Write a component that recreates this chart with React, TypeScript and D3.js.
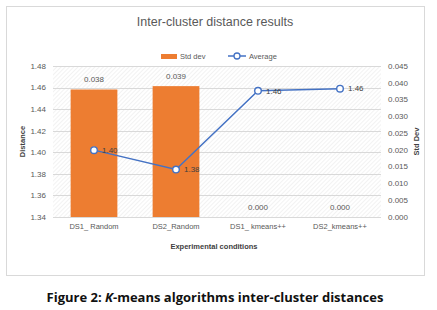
import React from "react";
import * as d3 from "d3";

const categories = ["DS1_ Random", "DS2_Random", "DS1_ kmeans++", "DS2_kmeans++"];
const stdDev = [0.038, 0.039, 0.0, 0.0];
const stdDevLabels = ["0.038", "0.039", "0.000", "0.000"];
const average = [1.402, 1.384, 1.457, 1.459];
const averageLabels = ["1.40", "1.38", "1.46", "1.46"];
const leftTicks = [1.34, 1.36, 1.38, 1.4, 1.42, 1.44, 1.46, 1.48];
const rightTicks = [0, 0.005, 0.01, 0.015, 0.02, 0.025, 0.03, 0.035, 0.04, 0.045];

const W = 437;
const H = 310;
const plot = { left: 53, right: 381, top: 66, bottom: 217 };
const FONT = "'Liberation Sans', Arial, sans-serif";
const GRAY = "#595959";
const BAR = "#ED7D31";
const LINE = "#4472C4";

export default function App() {
  const x = d3
    .scaleBand<string>()
    .domain(categories)
    .range([plot.left, plot.right])
    .paddingInner(0.43)
    .paddingOuter(0.215);
  const yL = d3.scaleLinear().domain([1.34, 1.48]).range([plot.bottom, plot.top]);
  const yR = d3.scaleLinear().domain([0, 0.045]).range([plot.bottom, plot.top]);
  const cx = (c: string) => (x(c) ?? 0) + x.bandwidth() / 2;
  const line = d3
    .line<number>()
    .x((_, i) => cx(categories[i]))
    .y((d) => yL(d));

  return (
    <svg
      width={W}
      height={H}
      style={{ position: "absolute", left: 0, top: 0 }}
      fontFamily={FONT}
    >
      <defs>
        <pattern id="hatch" width="3" height="3" patternUnits="userSpaceOnUse" patternTransform="rotate(45)">
          <rect width="3" height="3" fill="#ffffff" />
          <line x1="0" y1="0" x2="0" y2="3" stroke="#e6e6e6" strokeWidth="1" />
        </pattern>
      </defs>
      <rect x={0} y={0} width={W} height={H} fill="#ffffff" />
      <rect x={6.5} y={6.5} width={418} height={269} fill="#ffffff" stroke="#d9d9d9" />

      <text x={215} y={26} textAnchor="middle" fontSize={12.5} fill={GRAY}>
        Inter-cluster distance results
      </text>

      {/* legend */}
      <rect x={161} y={54} width={16} height={5} fill={BAR} />
      <text x={180} y={59} fontSize={7.5} fill={GRAY}>Std dev</text>
      <line x1={228} x2={246} y1={56} y2={56} stroke={LINE} strokeWidth={1.5} />
      <circle cx={237} cy={56} r={3} fill="#fff" stroke={LINE} strokeWidth={1.3} />
      <text x={249} y={59} fontSize={7.5} fill={GRAY}>Average</text>

      {/* plot background */}
      <rect
        x={plot.left}
        y={plot.top}
        width={plot.right - plot.left}
        height={plot.bottom - plot.top}
        fill="url(#hatch)"
      />
      {leftTicks.map((t) => (
        <line
          key={"g" + t}
          x1={plot.left}
          x2={plot.right}
          y1={Math.round(yL(t)) + 0.5}
          y2={Math.round(yL(t)) + 0.5}
          stroke="#d9d9d9"
          strokeWidth={1}
        />
      ))}

      {/* left ticks */}
      {leftTicks.map((t) => (
        <text key={"l" + t} x={46} y={yL(t)} dy="0.35em" textAnchor="end" fontSize={8} fill={GRAY}>
          {t.toFixed(2)}
        </text>
      ))}
      {/* right ticks */}
      {rightTicks.map((t) => (
        <text key={"r" + t} x={388} y={yR(t)} dy="0.35em" textAnchor="start" fontSize={8} fill={GRAY}>
          {t.toFixed(3)}
        </text>
      ))}

      {/* bars */}
      {categories.map((c, i) => (
        <rect
          key={"b" + c}
          x={x(c)}
          y={yR(stdDev[i])}
          width={x.bandwidth()}
          height={plot.bottom - yR(stdDev[i])}
          fill={BAR}
        />
      ))}
      {categories.map((c, i) => (
        <text key={"bl" + c} x={cx(c)} y={yR(stdDev[i]) - 7} textAnchor="middle" fontSize={8} fill={GRAY}>
          {stdDevLabels[i]}
        </text>
      ))}

      {/* line */}
      <path d={line(average) ?? ""} fill="none" stroke={LINE} strokeWidth={1.5} />
      {categories.map((c, i) => (
        <circle key={"p" + c} cx={cx(c)} cy={yL(average[i])} r={3.3} fill="#fff" stroke={LINE} strokeWidth={1.4} />
      ))}
      {categories.map((c, i) => (
        <text key={"pl" + c} x={cx(c) + 8} y={yL(average[i])} dy="0.35em" fontSize={8} fill="#404040">
          {averageLabels[i]}
        </text>
      ))}

      {/* x labels */}
      {categories.map((c) => (
        <text key={"x" + c} x={cx(c)} y={229} textAnchor="middle" fontSize={7.5} fill={GRAY}>
          {c}
        </text>
      ))}

      {/* axis titles */}
      <text x={214} y={249} textAnchor="middle" fontSize={7.5} fontWeight="bold" fill="#404040">
        Experimental conditions
      </text>
      <text
        transform={`translate(25,${(plot.top + plot.bottom) / 2}) rotate(-90)`}
        textAnchor="middle"
        fontSize={7.5}
        fontWeight="bold"
        fill="#404040"
      >
        Distance
      </text>
      <text
        transform={`translate(419,${(plot.top + plot.bottom) / 2}) rotate(-90)`}
        textAnchor="middle"
        fontSize={7.5}
        fontWeight="bold"
        fill="#404040"
      >
        Std Dev
      </text>

      {/* caption */}
      <text x={215} y={302} textAnchor="middle" fontSize={13} fontWeight="bold" fill="#111" fontFamily="'Open Sans', sans-serif">
        Figure 2: <tspan fontStyle="italic">K</tspan>-means algorithms inter-cluster distances
      </text>
    </svg>
  );
}
